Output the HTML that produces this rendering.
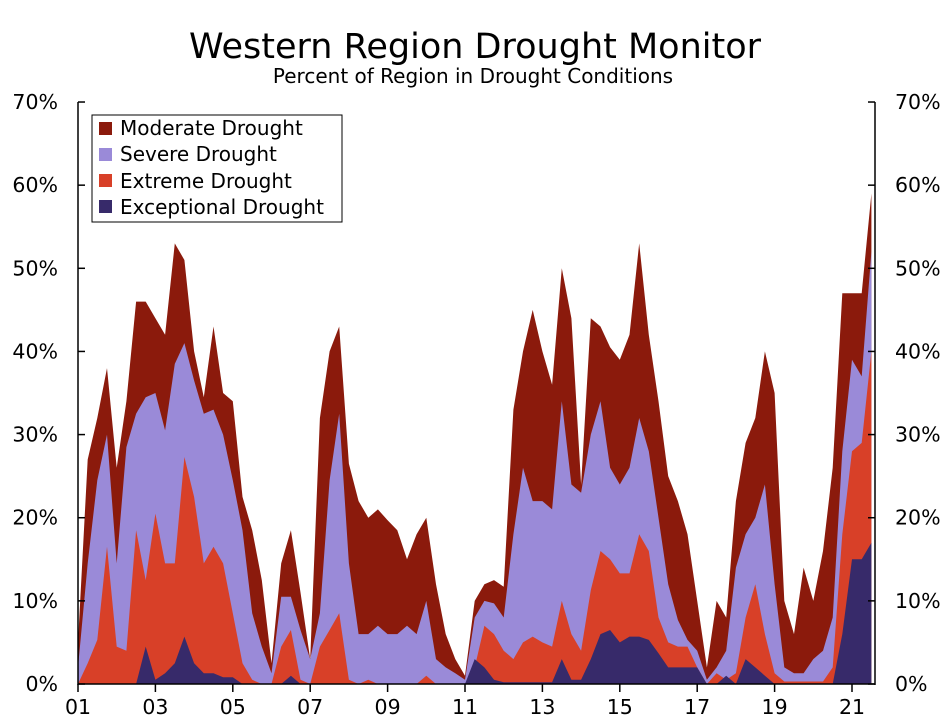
<!DOCTYPE html>
<html><head><meta charset="utf-8"><style>
body{margin:0;background:#fff;}
svg{display:block;font-family:"DejaVu Sans","Liberation Sans",sans-serif;}
</style></head><body>
<svg id="chart" width="947" height="726" viewBox="0 0 947 726">
<text x="475" y="58" font-size="35" text-anchor="middle">Western Region Drought Monitor</text>
<text x="473" y="83" font-size="20" text-anchor="middle">Percent of Region in Drought Conditions</text>
<g id="areas"></g>
<g id="axes"></g>
<g>
<rect x="92" y="115" width="250" height="107" fill="#fff" stroke="#000" stroke-width="1"/>
<rect x="99" y="122" width="13" height="13" fill="#8B1A0C"/>
<text x="120" y="135" font-size="20">Moderate Drought</text>
<rect x="99" y="148" width="13" height="13" fill="#9A8AD8"/>
<text x="120" y="161" font-size="20">Severe Drought</text>
<rect x="99" y="174" width="13" height="13" fill="#D84028"/>
<text x="120" y="188" font-size="20">Extreme Drought</text>
<rect x="99" y="200" width="13" height="13" fill="#372A6A"/>
<text x="120" y="214" font-size="20">Exceptional Drought</text>
</g>
</svg>
<script>
// Quarterly observations starting 2001.0
const startYear = 2001;
const stepYears = 0.25;
const d1Total = [5,27,32,38,26,34,46,46,44,42,53,51,40,34.5,43,35,34,22.5,18.5,12.5,2.5,14.5,18.5,11,3,32,40,43,26.5,22,20,21,19.7,18.5,15,18,20,12,6,3,1,10,12,12.5,11.7,33,40,45,40,36,50,44,24,44,43,40.5,39,42,53,42,34,25,22,18,10,2,10,8,22,29,32,40,35,10,6,14,10,16,26,47,47,47,59];
const d2Total = [2,14.5,24.5,30,14.5,28.5,32.5,34.5,35,30.5,38.5,41,36.5,32.5,33,30,24.5,18.5,8.5,4.5,1.3,10.5,10.5,6.5,3,8.5,24.5,32.5,14.5,6,6,7,6,6,7,6,10,3,2,1.3,0.5,8,10,9.7,8,18,26,22,22,21,34,24,23,30,34,26,24,26,32,28,20,12,7.7,5.3,4,0.5,2,4,14,18,20,24,12,2,1.3,1.3,3,4,8,28,39,37,52];
const d3Total = [0,2.5,5.3,16.5,4.5,4,18.5,12.5,20.5,14.5,14.5,27.3,22.5,14.5,16.5,14.5,8.5,2.5,0.5,0,0,4.5,6.5,0.5,0,4.5,6.5,8.5,0.5,0,0.5,0,0,0,0,0,1,0,0,0,0,2,7,6,4,3,5,5.7,5,4.5,10,6,4,11.3,16,15,13.3,13.3,18,16,8,5,4.5,4.5,2,0,1.3,0.5,1.3,8,12,6,1.3,0.3,0.3,0.3,0.3,0.3,2,18,28,29,40];
const d4Total = [0,0,0,0,0,0,0,4.5,0.5,1.3,2.5,5.7,2.5,1.3,1.3,0.8,0.8,0,0,0,0,0,1,0,0,0,0,0,0,0,0,0,0,0,0,0,0,0,0,0,0,3,2,0.5,0.2,0.2,0.2,0.2,0.2,0.2,3,0.5,0.5,3,6,6.5,5,5.7,5.7,5.3,3.7,2,2,2,2,0,0,1,0,3,2,1,0,0,0,0,0,0,0,6,15,15,17];
const yTicks = [0,10,20,30,40,50,60,70];
const xTickLabels = ["01","03","05","07","09","11","13","15","17","19","21"];

const NS = "http://www.w3.org/2000/svg";
const X0 = 78, PX_PER_YEAR = 38.7, Y0 = 684, PX_PER_PCT = 8.314;
function xScale(t){ return X0 + (t - 2001) * PX_PER_YEAR; }
function yScale(v){ return Y0 - v * PX_PER_PCT; }
function tAt(i){ return startYear + i * stepYears; }

const areas = document.getElementById('areas');
function drawArea(vals, color, name){
  let d = "M" + xScale(tAt(0)) + "," + yScale(0);
  vals.forEach((v,i)=>{ d += " L" + xScale(tAt(i)).toFixed(1) + "," + yScale(v).toFixed(1); });
  d += " L" + xScale(tAt(vals.length-1)).toFixed(1) + "," + yScale(0) + " Z";
  const p = document.createElementNS(NS,'path');
  p.setAttribute('d', d);
  p.setAttribute('fill', color);
  
  
  areas.appendChild(p);
}
drawArea(d1Total, '#8B1A0C', 'moderate-drought-area');
drawArea(d2Total, '#9A8AD8', 'severe-drought-area');
drawArea(d3Total, '#D84028', 'extreme-drought-area');
drawArea(d4Total, '#372A6A', 'exceptional-drought-area');

const axes = document.getElementById('axes');
function line(x1,y1,x2,y2,name){
  const l = document.createElementNS(NS,'line');
  l.setAttribute('x1',x1);l.setAttribute('y1',y1);l.setAttribute('x2',x2);l.setAttribute('y2',y2);
  l.setAttribute('stroke','#000');l.setAttribute('stroke-width','1.5');
  
  
  axes.appendChild(l);
}
function text(x,y,s,anchor,name){
  const t = document.createElementNS(NS,'text');
  t.setAttribute('x',x);t.setAttribute('y',y);t.setAttribute('font-size','20.5');
  t.setAttribute('text-anchor',anchor);t.textContent = s;
  
  
  axes.appendChild(t);
}
const XR = 875;
line(X0, yScale(70), X0, Y0+1, 'left-y-axis');
line(XR, yScale(70), XR, Y0+1, 'right-y-axis');
line(X0, Y0, XR, Y0, 'x-axis');
yTicks.forEach(v=>{
  const y = yScale(v);
  line(X0, y, X0+7, y, 'y-tick-left');
  line(XR-7, y, XR, y, 'y-tick-right');
  text(58, y+7, v + '%', 'end', 'y-tick-label-left');
  text(895, y+7, v + '%', 'start', 'y-tick-label-right');
});
xTickLabels.forEach((s,i)=>{
  const x = xScale(2001 + i*2);
  line(x, Y0, x, Y0+8, 'x-tick');
  text(x, 714, s, 'middle', 'x-tick-label');
});
</script>
</body></html>
